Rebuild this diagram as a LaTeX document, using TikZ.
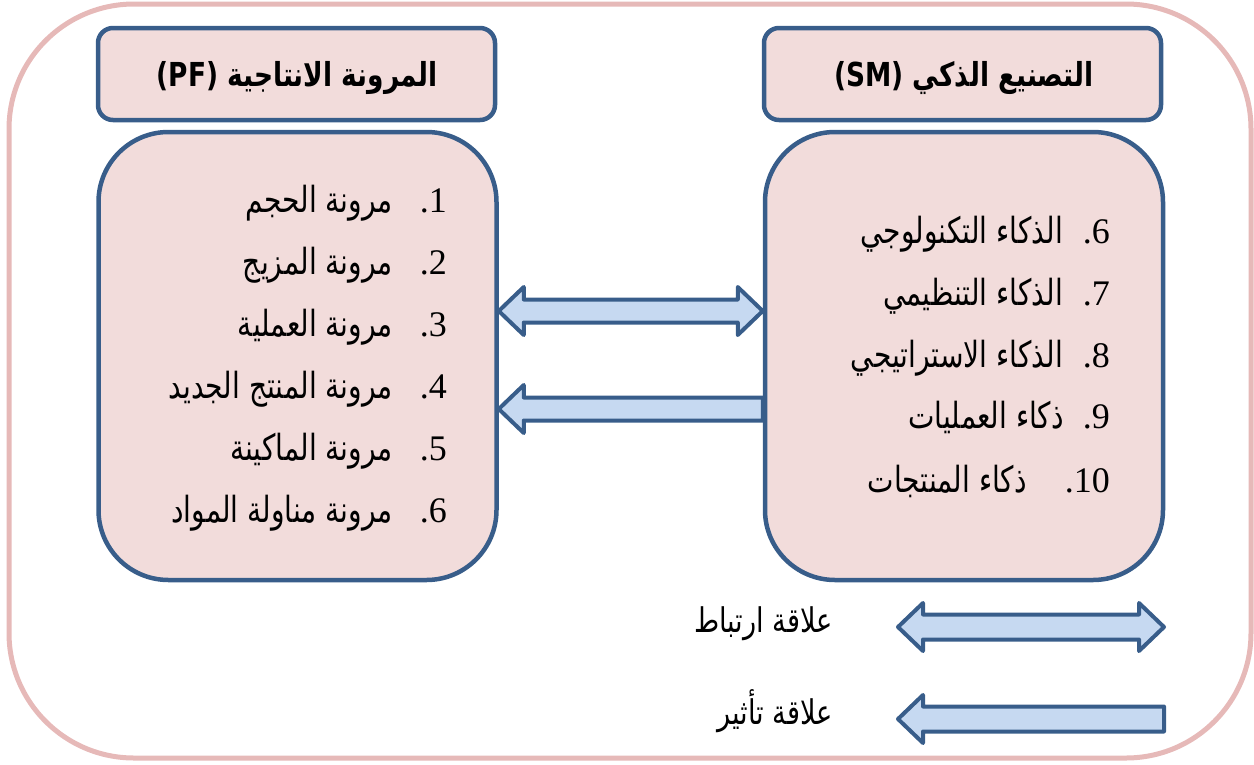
\documentclass[tikz,border=0pt]{standalone}
\usepackage{fontspec}
\usepackage{graphicx}
\usetikzlibrary{calc}
\TeXXeTstate=1
\newfontfamily\arabicfont[Script=Arabic]{DejaVu Sans}
\newfontfamily\numfont{Liberation Serif}
\definecolor{bblue}{HTML}{385D8A}
\definecolor{bfill}{HTML}{F2DCDB}
\definecolor{afill}{HTML}{C6D9F1}
\definecolor{oframe}{HTML}{E6B9B8}
\newcommand\sqz[2]{\scalebox{#1}[1]{#2}}
\tikzset{
  titlebox/.style={draw=bblue, fill=bfill, line width=4.5pt, rounded corners=15pt, minimum width=397pt, minimum height=92pt, inner sep=0pt},
  listbox/.style={draw=bblue, fill=bfill, line width=4.5pt, rounded corners=70pt, minimum width=398pt, minimum height=448pt, inner sep=0pt},
  blockarr/.style={draw=bblue, fill=afill, line width=4pt, line join=round},
  itemtxt/.style={anchor=base east, inner sep=0pt, font=\arabicfont\fontsize{36}{40}\selectfont},
  numtxt/.style={anchor=base east, inner sep=0pt, font=\numfont\fontsize{36}{40}\selectfont},
  titletxt/.style={inner sep=0pt, font=\arabicfont\bfseries\fontsize{33}{38}\selectfont},
  legtxt/.style={anchor=base east, inner sep=0pt, font=\arabicfont\fontsize{34}{38}\selectfont}
}
\begin{document}
\begin{tikzpicture}[x=1pt,y=-1pt]
\useasboundingbox (0,0) rectangle (1254,764);
% outer frame
\draw[oframe, line width=5pt, rounded corners=125pt] (9,4) rectangle (1251,758);
% title boxes
\node[titlebox] (pftitle) at (296.5,74) {};
\node[titlebox] (smtitle) at (962.5,74) {};
\node[titletxt] (pftt) at (297,78) {\sqz{0.8}{\beginR المرونة الانتاجية \beginL(PF)\endL\endR}};
\node[titletxt] (smtt) at (964,78) {\sqz{0.8}{\beginR التصنيع الذكي \beginL(SM)\endL\endR}};
% list boxes
\node[listbox] (pfbox) at (297.5,356) {};
\node[listbox] (smbox) at (964,356) {};
% left list
\node[numtxt] (n1) at (447,212) {.1};
\node[itemtxt] (t1) at (393,212) {\sqz{0.78}{\beginR مرونة الحجم\endR}};
\node[numtxt] (n2) at (447,274) {.2};
\node[itemtxt] (t2) at (393,274) {\sqz{0.78}{\beginR مرونة المزيج\endR}};
\node[numtxt] (n3) at (447,336) {.3};
\node[itemtxt] (t3) at (393,336) {\sqz{0.78}{\beginR مرونة العملية\endR}};
\node[numtxt] (n4) at (447,398) {.4};
\node[itemtxt] (t4) at (393,398) {\sqz{0.78}{\beginR مرونة المنتج الجديد\endR}};
\node[numtxt] (n5) at (447,460) {.5};
\node[itemtxt] (t5) at (393,460) {\sqz{0.78}{\beginR مرونة الماكينة\endR}};
\node[numtxt] (n6) at (447,522) {.6};
\node[itemtxt] (t6) at (393,522) {\sqz{0.78}{\beginR مرونة مناولة المواد\endR}};
% right list
\node[numtxt] (m6) at (1110,243) {.6};
\node[itemtxt] (s6) at (1063,243) {\sqz{0.78}{\beginR الذكاء التكنولوجي\endR}};
\node[numtxt] (m7) at (1110,305) {.7};
\node[itemtxt] (s7) at (1063,305) {\sqz{0.78}{\beginR الذكاء التنظيمي\endR}};
\node[numtxt] (m8) at (1110,367) {.8};
\node[itemtxt] (s8) at (1063,367) {\sqz{0.78}{\beginR الذكاء الاستراتيجي\endR}};
\node[numtxt] (m9) at (1110,428) {.9};
\node[itemtxt] (s9) at (1064,428) {\sqz{0.78}{\beginR ذكاء العمليات\endR}};
\node[numtxt] (m10) at (1110,492) {.10};
\node[itemtxt] (s10) at (1027,492) {\sqz{0.78}{\beginR ذكاء المنتجات\endR}};
% connector arrows
\coordinate (ya) at (0,311);
\coordinate (yb) at (0,409);
\coordinate (aL) at (pfbox.east |- ya);
\coordinate (aR) at (smbox.west |- ya);
\coordinate (bL) at (pfbox.east |- yb);
\coordinate (bR) at (smbox.west |- yb);
\draw[blockarr] (aL) -- ($(aL)+(25,-24)$) -- ($(aL)+(25,-11.5)$) -- ($(aR)+(-25,-11.5)$) -- ($(aR)+(-25,-24)$) -- (aR)
  -- ($(aR)+(-25,24)$) -- ($(aR)+(-25,11.5)$) -- ($(aL)+(25,11.5)$) -- ($(aL)+(25,24)$) -- cycle;
\draw[blockarr] (bL) -- ($(bL)+(25,-24)$) -- ($(bL)+(25,-11.5)$) -- ($(bR)+(0,-11.5)$) -- ($(bR)+(0,11.5)$)
  -- ($(bL)+(25,11.5)$) -- ($(bL)+(25,24)$) -- cycle;
% legend
\coordinate (cL) at (898,627);
\coordinate (cR) at (1164,627);
\coordinate (dL) at (898,719);
\coordinate (dR) at (1164,719);
\draw[blockarr] (cL) -- ($(cL)+(25,-24)$) -- ($(cL)+(25,-12.5)$) -- ($(cR)+(-25,-12.5)$) -- ($(cR)+(-25,-24)$) -- (cR)
  -- ($(cR)+(-25,24)$) -- ($(cR)+(-25,12.5)$) -- ($(cL)+(25,12.5)$) -- ($(cL)+(25,24)$) -- cycle;
\draw[blockarr] (dL) -- ($(dL)+(25,-24)$) -- ($(dL)+(25,-12.5)$) -- ($(dR)+(0,-12.5)$) -- ($(dR)+(0,12.5)$)
  -- ($(dL)+(25,12.5)$) -- ($(dL)+(25,24)$) -- cycle;
\node[legtxt] (lg1) at (833,632) {\sqz{0.8}{\beginR علاقة ارتباط\endR}};
\node[legtxt] (lg2) at (833,724) {\sqz{0.8}{\beginR علاقة تأثير\endR}};
\end{tikzpicture}
\end{document}
